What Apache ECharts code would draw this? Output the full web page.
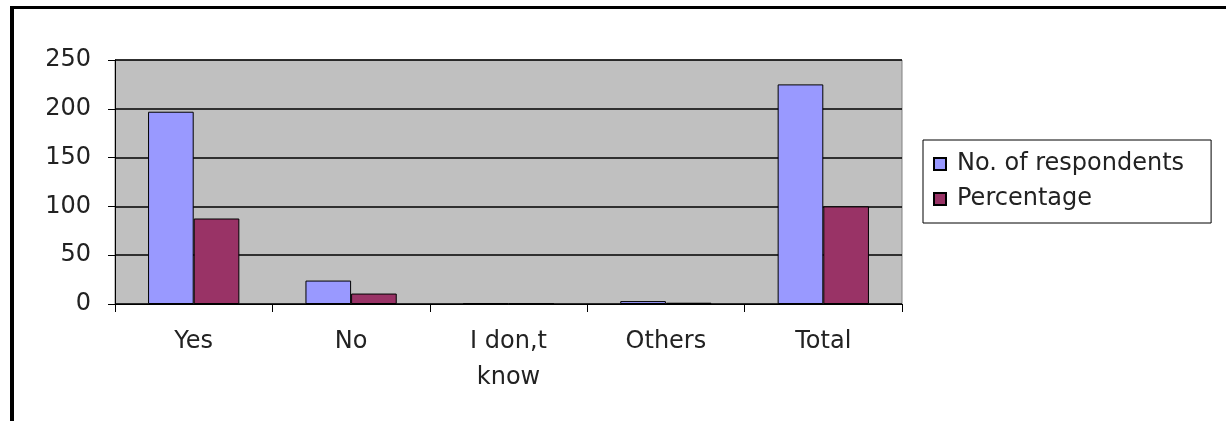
<!DOCTYPE html>
<html>
<head>
<meta charset="utf-8">
<script src="https://cdn.jsdelivr.net/npm/echarts@6/dist/echarts.min.js"></script>
<style>
  html, body { margin: 0; padding: 0; background: #fff; }
  #chart { width: 1226px; height: 421px; }
</style>
</head>
<body>
<div id="chart"></div>
<script>
// Survey answers: counts of respondents and their share of the total
const categories = ['Yes', 'No', 'I don,t\nknow', 'Others', 'Total'];
const respondents = [197, 24, 1, 3, 225];
const percentage = [87.6, 10.7, 0.4, 1.3, 100];
const seriesNames = ['No. of respondents', 'Percentage'];
const yTicks = { min: 0, max: 250, step: 50 };

const FONT = 'DejaVu Sans';
const TEXT = '#222222';

const chart = echarts.init(document.getElementById('chart'), null, { renderer: 'canvas' });

chart.setOption({
  animation: false,
  backgroundColor: '#ffffff',
  textStyle: { fontFamily: FONT },
  graphic: [
    // heavy frame along the top and left edges
    { type: 'rect', shape: { x: 10, y: 6, width: 1216, height: 3 }, style: { fill: '#000' }, z: 100 },
    { type: 'rect', shape: { x: 10, y: 6, width: 4, height: 415 }, style: { fill: '#000' }, z: 100 }
  ],
  grid: {
    left: 115, right: 324, top: 60, bottom: 117,
    show: true, backgroundColor: '#C0C0C0', borderColor: '#808080', borderWidth: 1
  },
  legend: {
    orient: 'vertical',
    left: 923, top: 140,
    padding: [12, 27, 12, 10],
    itemGap: 11,
    itemWidth: 12, itemHeight: 12,
    icon: 'rect',
    borderColor: '#000', borderWidth: 1,
    textStyle: { fontFamily: FONT, fontSize: 24, color: TEXT, padding: [0, 0, 0, 6] },
    data: seriesNames
  },
  xAxis: {
    type: 'category',
    data: categories,
    axisLine: { lineStyle: { color: '#000', width: 1 } },
    axisTick: { show: true, length: 8, lineStyle: { color: '#000' } },
    axisLabel: { fontFamily: FONT, fontSize: 24, color: TEXT, margin: 20, lineHeight: 36 },
    splitLine: { show: false }
  },
  yAxis: {
    type: 'value',
    min: yTicks.min, max: yTicks.max, interval: yTicks.step,
    axisLine: { show: true, lineStyle: { color: '#000', width: 1 } },
    axisTick: { show: true, length: 7, lineStyle: { color: '#000' } },
    axisLabel: { fontFamily: FONT, fontSize: 24, color: TEXT, margin: 24 },
    splitLine: { show: true, lineStyle: { color: '#000', width: 1.5 } }
  },
  series: [
    {
      name: seriesNames[0], type: 'bar', data: respondents,
      barGap: '0%', barCategoryGap: '42%',
      itemStyle: { color: '#9999FF', borderColor: '#000', borderWidth: 1 }
    },
    {
      name: seriesNames[1], type: 'bar', data: percentage,
      itemStyle: { color: '#993366', borderColor: '#000', borderWidth: 1 }
    }
  ]
});
</script>
</body>
</html>
